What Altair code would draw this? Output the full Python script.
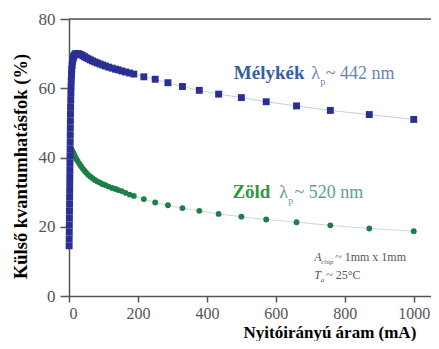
import altair as alt
import pandas as pd

# ---- data ----
blue_current = [0.4, 0.6, 0.8, 1.0, 1.2, 1.4, 1.6, 1.8, 2.0, 2.2, 2.4, 2.6, 2.8, 3.0, 3.2, 3.4, 3.6, 3.8, 4.0,
                4.3, 4.6, 5.0, 5.5, 6.0, 6.6, 7.3, 8.0, 9.0, 10, 11.5, 13, 15, 17.5, 20,
                25, 30, 35, 40, 45, 50, 56, 62, 68, 75, 82, 90, 98, 106, 115, 125, 135, 143, 153, 164, 176,
                188, 217, 250, 287, 329, 378, 434, 500, 572, 660, 758, 871, 1000]
blue_eqe = [14.5, 16.5, 18.5, 20.5, 22.5, 24.5, 26.5, 28.5, 30.5, 32.5, 34.5, 36.5, 38.5, 40.5, 42.5, 44.5, 46.5, 48.5, 50.5,
            52.5, 54.5, 56.5, 58.5, 60.5, 62.3, 64.0, 65.4, 66.6, 67.6, 68.4, 69.0, 69.5, 69.8, 70.0,
            70.0, 69.9, 69.7, 69.4, 69.1, 68.8, 68.5, 68.2, 67.9, 67.6, 67.3, 67.0, 66.7, 66.4, 66.1, 65.8, 65.5, 65.3, 65.0, 64.7, 64.4,
            64.1, 63.3, 62.6, 61.6, 60.5, 59.4, 58.3, 57.3, 56.1, 54.9, 53.6, 52.4, 51.0]

green_current = [5, 7, 9, 11, 13, 15, 18, 21, 25, 30, 35, 40, 45, 50, 56, 62, 68, 75, 82, 90,
                 98, 106, 115, 125, 135, 143, 153, 164, 176, 188, 217, 250, 287, 329, 378, 434, 500, 572, 660, 758,
                 871, 1000]
green_eqe = [42.6, 42.3, 42.0, 41.6, 41.2, 40.8, 40.2, 39.6, 39.0, 38.2, 37.5, 36.8, 36.2, 35.6, 35.0, 34.5, 34.0, 33.5, 33.1, 32.7,
             32.3, 32.0, 31.6, 31.2, 30.9, 30.6, 30.3, 29.8, 29.3, 28.9, 28.0, 27.0, 26.2, 25.4, 24.6, 23.7, 22.9, 22.1, 21.3, 20.4,
             19.5, 18.7]

x_ticks = [0, 200, 400, 600, 800, 1000]
y_ticks = [0, 20, 40, 60, 80]

BLUE = "#2b2f94"
GREEN = "#1b7f47"
FONT = "Liberation Serif, Times New Roman, serif"

blue_df = pd.DataFrame({"I": blue_current, "EQE": blue_eqe})
green_df = pd.DataFrame({"I": green_current, "EQE": green_eqe})

xscale = alt.Scale(domain=[0, 1050], nice=False, zero=False)
yscale = alt.Scale(domain=[0, 80], nice=False)

xenc = alt.X("I:Q", scale=xscale, axis=alt.Axis(
    values=x_ticks, format="d", title="Nyitóirányú áram (mA)", grid=False,
    titleX=174, titleY=41, titleAlign="left", titleBaseline="alphabetic",
    titleFont=FONT, titleFontSize=17, titleFontWeight="bold", titleColor="#000",
    labelFont=FONT, labelFontSize=16, labelColor="#555", labelPadding=3,
    tickSize=6, tickColor="#555", tickWidth=1.5, domainColor="#555", domainWidth=1.5))
yenc = alt.Y("EQE:Q", scale=yscale, axis=alt.Axis(
    values=y_ticks, title="Külső kvantumhatásfok (%)", grid=False,
    titleX=-49, titleY=147, titleAlign="center", titleAngle=-90, titleBaseline="middle",
    titleFont=FONT, titleFontSize=18.5, titleFontWeight="bold", titleColor="#000",
    labelFont=FONT, labelFontSize=17, labelColor="#555", labelPadding=5,
    tickSize=9, tickColor="#555", tickWidth=1.5, domainColor="#555", domainWidth=1.5))

top_rule = alt.Chart(pd.DataFrame({"v": [80]})).mark_rule(color="#555", strokeWidth=1.5).encode(
    y=alt.Y("v:Q", scale=yscale))

green_line = alt.Chart(green_df).mark_line(color="#c9dccf", strokeWidth=1).encode(x=xenc, y=yenc)
green_pts = alt.Chart(green_df).mark_circle(color=GREEN, opacity=1, size=34).encode(x=xenc, y=yenc)
blue_line = alt.Chart(blue_df).mark_line(color="#c9cde3", strokeWidth=1).encode(x=xenc, y=yenc)
blue_pts = alt.Chart(blue_df).mark_square(color=BLUE, opacity=1, size=48).encode(x=xenc, y=yenc)


def txt(s, x, y, size, color, weight="normal", style="normal"):
    return alt.Chart(pd.DataFrame({"a": [0]})).mark_text(
        text=s, align="left", baseline="alphabetic", font=FONT, fontSize=size,
        color=color, fontWeight=weight, fontStyle=style).encode(
        x=alt.datum(x, scale=xscale), y=alt.datum(y, scale=yscale))


labels = [
    txt("Mélykék", 478, 62.7, 19, "#34609d", "bold"),
    txt("λ", 703, 62.7, 18, "#6a86b5"),
    txt("p", 729, 61.0, 10, "#6a86b5"),
    txt("~ 442 nm", 745, 62.7, 18, "#6a86b5"),
    txt("Zöld", 474, 28.2, 19, "#2e9a3e", "bold"),
    txt("λ", 610, 28.2, 18, "#5fa282"),
    txt("p", 636, 26.5, 10, "#5fa282"),
    txt("~ 520 nm", 654, 28.2, 18, "#5fa282"),
    txt("A", 711, 10.1, 12, "#555", style="italic"),
    txt("chip", 732, 9.2, 7, "#555", style="italic"),
    txt("~ 1mm x 1mm", 772, 10.1, 12, "#555"),
    txt("T", 711, 4.9, 12, "#555", style="italic"),
    txt("a", 730, 4.0, 7, "#555", style="italic"),
    txt("~ 25°C", 746, 4.9, 12, "#555"),
]

chart = alt.layer(top_rule, green_line, green_pts, blue_line, blue_pts, *labels).properties(
    width=362, height=277,
    autosize=alt.AutoSizeParams(type="none"),
    padding={"left": 61, "top": 11, "right": 0, "bottom": 45},
).configure_view(stroke=None).configure(background="white")

chart.save("out.html", embed_options={"renderer": "svg", "actions": False})
